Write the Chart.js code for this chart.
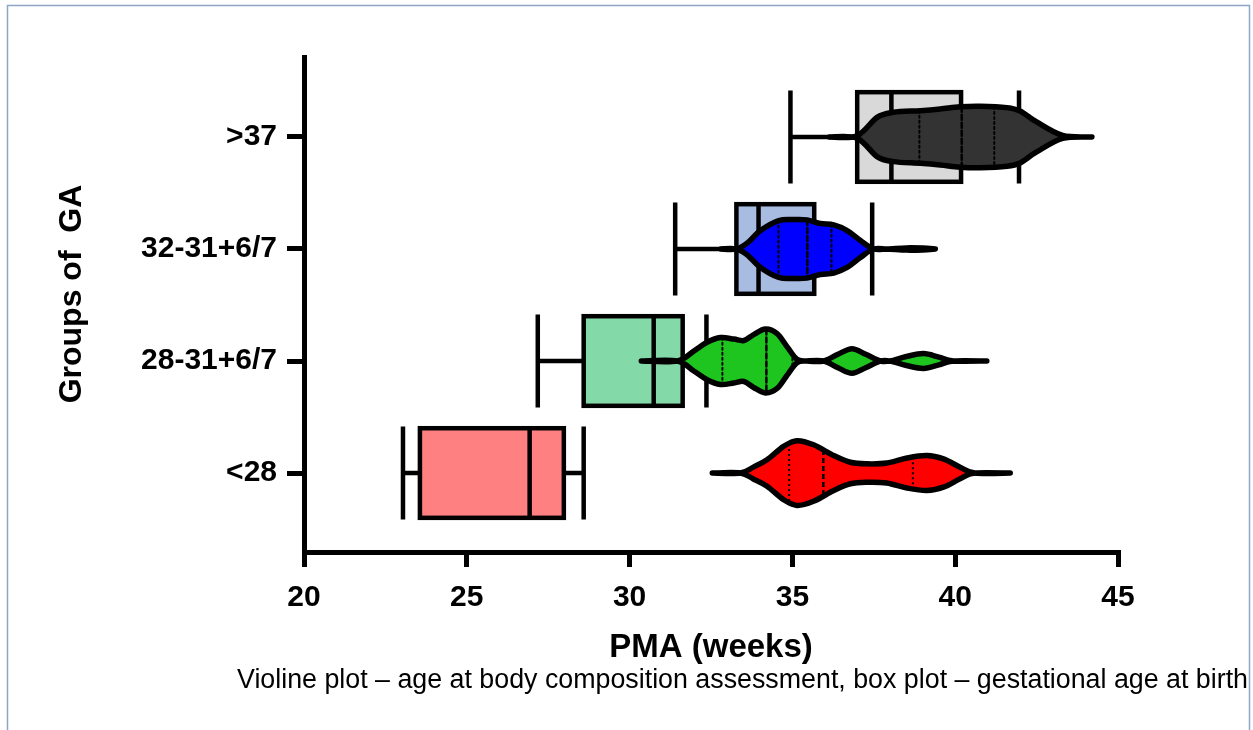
<!DOCTYPE html>
<html>
<head>
<meta charset="utf-8">
<script src="https://cdn.jsdelivr.net/npm/chart.js@4"></script>
<style>
  html, body { margin: 0; padding: 0; background: #fff; }
  #wrap { position: relative; width: 1253px; height: 730px; }
</style>
</head>
<body>
<div id="wrap"><canvas id="chart" width="1253" height="730"></canvas></div>
<script>
// Groups of GA, bottom to top
const categories = ['<28', '28-31+6/7', '32-31+6/7', '>37'];
const xTicks = [20, 25, 30, 35, 40, 45];

// Box plot - gestational age at birth (weeks)
const boxMin = [23.04, 27.18, 31.40, 34.94];
const boxQ1 = [23.56, 28.59, 33.28, 36.99];
const boxMedian = [26.93, 30.74, 33.96, 38.04];
const boxQ3 = [27.98, 31.63, 35.67, 40.18];
const boxMax = [28.59, 32.36, 37.45, 41.96];

// Violin plot - PMA at body composition assessment (weeks, half width in group units)
const violinWeeksLt28 = [32.54, 33.4, 33.8, 34.22, 34.73, 35.14, 35.65, 36.27, 36.78, 37.29, 37.9, 38.52, 39.13, 39.64, 40.15, 40.6, 41.69];
const violinWidthLt28 = [0, 0, 0.053, 0.118, 0.238, 0.289, 0.252, 0.156, 0.096, 0.082, 0.089, 0.134, 0.156, 0.126, 0.052, 0, 0];
const violinWeeks28 = [30.36, 31.46, 31.97, 32.38, 32.79, 33.2, 33.51, 33.81, 34.17, 34.53, 34.84, 35.14, 35.45, 35.96, 36.4, 36.83, 37.25, 37.7, 38.0, 38.5, 39.03, 39.5, 39.95, 40.97];
const violinWidth28 = [0, 0, 0.089, 0.167, 0.209, 0.196, 0.183, 0.236, 0.285, 0.245, 0.126, 0.015, 0, 0, 0.06, 0.11, 0.06, 0, 0, 0.04, 0.066, 0.034, 0, 0];
const violinWeeks32 = [32.8, 33.28, 33.61, 34.02, 34.58, 35.04, 35.45, 35.86, 36.27, 36.68, 37.09, 37.49, 37.9, 38.5, 39.0, 39.39];
const violinWidth32 = [0, 0, 0.052, 0.165, 0.254, 0.263, 0.26, 0.227, 0.215, 0.165, 0.076, 0, 0, 0.01, 0.008, 0];
const violinWeeks37 = [36.13, 36.98, 37.6, 38.1, 38.93, 39.54, 40.15, 40.77, 41.59, 41.99, 42.5, 43.3, 44.2];
const violinWidth37 = [0, 0.01, 0.175, 0.22, 0.235, 0.25, 0.27, 0.275, 0.262, 0.232, 0.134, 0.013, 0];
const violinQ1 = [34.9, 32.85, 34.57, 38.9];
const violinMedian = [35.95, 34.2, 35.46, 40.2];
const violinQ3 = [38.7, 35.0, 36.2, 41.2];

const violinWeeks = [violinWeeksLt28, violinWeeks28, violinWeeks32, violinWeeks37];
const violinWidth = [violinWidthLt28, violinWidth28, violinWidth32, violinWidth37];

// styles
const boxColors = ['#ff8080', '#84d9a8', '#a8bce2', '#d9d9d9'];
const violinColors = ['#ff0000', '#1ec51e', '#0000ff', '#333333'];
const boldFont = "'Liberation Sans', Arial, sans-serif";

function curve(ctx, pts, first) {
  if (first) ctx.moveTo(pts[0].x, pts[0].y); else ctx.lineTo(pts[0].x, pts[0].y);
  for (let i = 0; i < pts.length - 1; i++) {
    const p0 = pts[i - 1] || pts[i], p1 = pts[i], p2 = pts[i + 1], p3 = pts[i + 2] || p2;
    ctx.bezierCurveTo(
      p1.x + (p2.x - p0.x) / 6, p1.y + (p2.y - p0.y) / 6,
      p2.x - (p3.x - p1.x) / 6, p2.y - (p3.y - p1.y) / 6,
      p2.x, p2.y);
  }
}

function widthAt(weeks, widths, v) {
  for (let i = 0; i < weeks.length - 1; i++) {
    if (v >= weeks[i] && v <= weeks[i + 1]) {
      const t = (v - weeks[i]) / (weeks[i + 1] - weeks[i]);
      return widths[i] + t * (widths[i + 1] - widths[i]);
    }
  }
  return 0;
}

const boxViolinPlugin = {
  id: 'boxViolin',
  beforeDraw(chart) {
    const ctx = chart.ctx;
    ctx.save();
    ctx.fillStyle = '#fff';
    ctx.fillRect(0, 0, chart.width, chart.height);
    ctx.strokeStyle = '#8ea6c4';
    ctx.lineWidth = 1.5;
    ctx.strokeRect(7.5, 5.5, 1242, 740);
    ctx.restore();
  },
  afterDatasetsDraw(chart) {
    const ctx = chart.ctx;
    const x = chart.scales.x, y = chart.scales.y;
    const unit = Math.abs(y.getPixelForValue(1) - y.getPixelForValue(0));
    ctx.save();
    // box plots
    categories.forEach((c, i) => {
      const cy = y.getPixelForValue(i + 1);
      const bh = 0.4 * unit, ch = 0.415 * unit;
      const xmin = x.getPixelForValue(boxMin[i]), xq1 = x.getPixelForValue(boxQ1[i]);
      const xmed = x.getPixelForValue(boxMedian[i]), xq3 = x.getPixelForValue(boxQ3[i]);
      const xmax = x.getPixelForValue(boxMax[i]);
      ctx.lineCap = 'butt';
      ctx.lineWidth = 4.5;
      ctx.strokeStyle = '#000';
      ctx.beginPath();
      ctx.moveTo(xmin, cy); ctx.lineTo(xq1, cy);
      ctx.moveTo(xq3, cy); ctx.lineTo(xmax, cy);
      ctx.moveTo(xmin, cy - ch); ctx.lineTo(xmin, cy + ch);
      ctx.moveTo(xmax, cy - ch); ctx.lineTo(xmax, cy + ch);
      ctx.stroke();
      ctx.fillStyle = boxColors[i];
      ctx.fillRect(xq1, cy - bh, xq3 - xq1, 2 * bh);
      ctx.lineJoin = 'miter';
      ctx.strokeRect(xq1, cy - bh, xq3 - xq1, 2 * bh);
      ctx.beginPath();
      ctx.moveTo(xmed, cy - bh); ctx.lineTo(xmed, cy + bh);
      ctx.stroke();
    });
    // violins
    categories.forEach((c, i) => {
      const cy = y.getPixelForValue(i + 1);
      const wk = violinWeeks[i], wd = violinWidth[i];
      const top = wk.map((v, k) => ({x: x.getPixelForValue(v), y: cy - wd[k] * unit}));
      const bottom = wk.map((v, k) => ({x: x.getPixelForValue(v), y: cy + wd[k] * unit})).reverse();
      ctx.beginPath();
      curve(ctx, top, true);
      curve(ctx, bottom, false);
      ctx.closePath();
      ctx.fillStyle = violinColors[i];
      ctx.fill();
      // quartile lines
      [[violinQ1[i], [2, 3], 2], [violinMedian[i], [5, 3], 2.5], [violinQ3[i], [2, 3], 2]].forEach(([v, dash, lw]) => {
        const h = widthAt(wk, wd, v) * unit;
        const px = x.getPixelForValue(v);
        ctx.setLineDash(dash);
        ctx.lineWidth = lw;
        ctx.strokeStyle = '#000';
        ctx.beginPath();
        ctx.moveTo(px, cy - h); ctx.lineTo(px, cy + h);
        ctx.stroke();
      });
      ctx.setLineDash([]);
      ctx.beginPath();
      curve(ctx, top, true);
      curve(ctx, bottom, false);
      ctx.closePath();
      ctx.lineWidth = 5.5;
      ctx.lineJoin = 'round';
      ctx.lineCap = 'round';
      ctx.strokeStyle = '#000';
      ctx.stroke();
    });
    ctx.restore();
  },
  afterDraw(chart) {
    const ctx = chart.ctx;
    ctx.save();
    ctx.fillStyle = '#000';
    // y axis title
    ctx.translate(72, 294);
    ctx.rotate(-Math.PI / 2);
    ctx.font = "bold 32px 'Liberation Sans', Arial, sans-serif";
    ctx.textAlign = 'center';
    ctx.textBaseline = 'middle';
    ctx.fillText('Groups of  GA', 0, 0);
    ctx.restore();
    ctx.save();
    ctx.fillStyle = '#000';
    ctx.font = "26.8px 'Liberation Sans', Arial, sans-serif";
    ctx.textAlign = 'right';
    ctx.textBaseline = 'alphabetic';
    ctx.fillText('Violine plot \u2013 age at body composition assessment, box plot \u2013 gestational age at birth', 1248, 688);
    ctx.restore();
  }
};

new Chart(document.getElementById('chart'), {
  type: 'scatter',
  data: {
    datasets: categories.map((c, i) => ({
      label: c,
      data: [{x: boxMin[i], y: i + 1}, {x: violinWeeks[i][violinWeeks[i].length - 1], y: i + 1}],
      pointRadius: 0,
      showLine: false
    }))
  },
  options: {
    responsive: false,
    animation: false,
    layout: { padding: { left: 0, right: 135, top: 57, bottom: 0 } },
    plugins: { legend: { display: false }, tooltip: { enabled: false } },
    scales: {
      x: {
        type: 'linear',
        min: 20, max: 45,
        afterBuildTicks: s => { s.ticks = xTicks.map(v => ({value: v})); },
        afterFit: s => { s.height = 178; },
        ticks: { color: '#000', padding: 13, font: { family: boldFont, size: 30, weight: 'bold' } },
        grid: { drawOnChartArea: false, drawTicks: true, tickLength: 15, lineWidth: 5, tickWidth: 5, color: '#000' },
        border: { display: true, width: 5, color: '#000' },
        title: { display: true, text: 'PMA (weeks)', color: '#000', padding: { top: 0, bottom: 62 }, font: { family: boldFont, size: 33, weight: 'bold' } }
      },
      y: {
        type: 'linear',
        min: 0.295, max: 4.714,
        afterBuildTicks: s => { s.ticks = categories.map((c, i) => ({value: i + 1})); },
        afterFit: s => { s.width = 304; },
        ticks: { color: '#000', padding: 10, callback: v => categories[Math.round(v) - 1], font: { family: boldFont, size: 30, weight: 'bold' } },
        grid: { drawOnChartArea: false, drawTicks: true, tickLength: 17, lineWidth: 5, tickWidth: 5, color: '#000' },
        border: { display: true, width: 5, color: '#000' }
      }
    }
  },
  plugins: [boxViolinPlugin]
});
</script>
</body>
</html>
